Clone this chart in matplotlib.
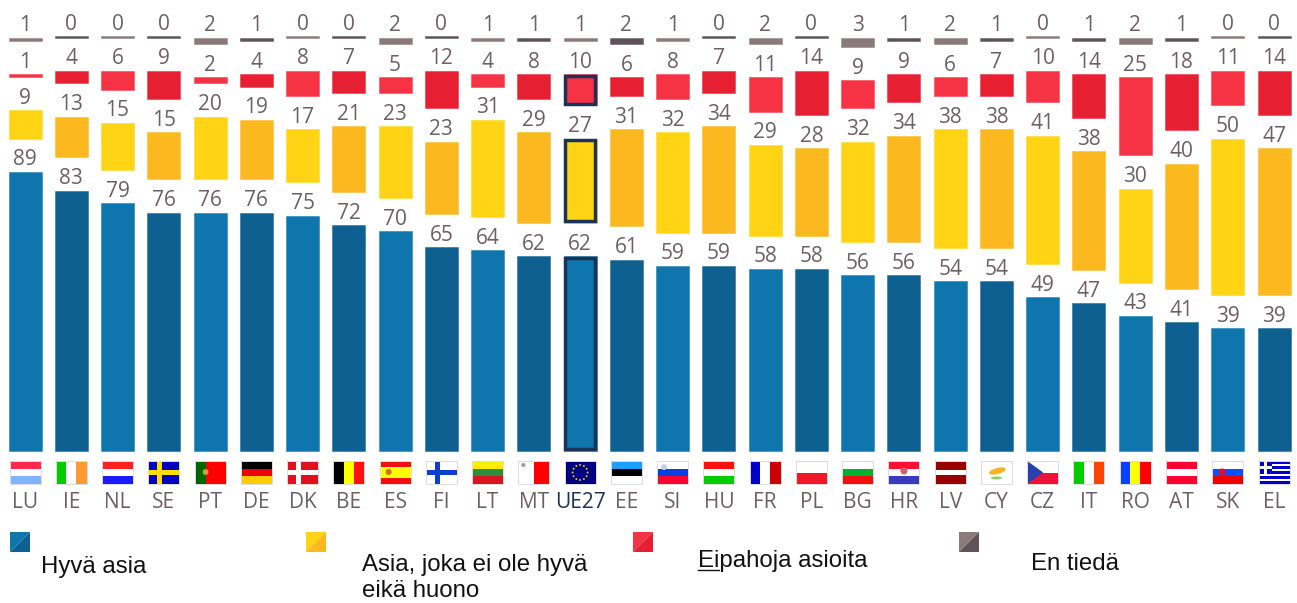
import matplotlib

matplotlib.use("Agg")
import matplotlib.pyplot as plt
import numpy as np
from matplotlib.patches import Circle, Ellipse, Polygon, Rectangle

# pixel geometry of the picture
WIDTH, HEIGHT = 1297, 603
X_FIRST = 25.0
PITCH = 46.26
BAR_PX = 33.0
BASE_Y = 450.5
PX_PER_UNIT = 3.13
GAP = 33.3 / PX_PER_UNIT  # blank space between two segments, in data units
MIN_HEIGHT = 0.4  # a 0 still shows a hairline

COUNTRIES = ["LU", "IE", "NL", "SE", "PT", "DE", "DK", "BE", "ES", "FI", "LT", "MT", "UE27", "EE",
             "SI", "HU", "FR", "PL", "BG", "HR", "LV", "CY", "CZ", "IT", "RO", "AT", "SK", "EL"]
GOOD = [89, 83, 79, 76, 76, 76, 75, 72, 70, 65, 64, 62, 62, 61,
        59, 59, 58, 58, 56, 56, 54, 54, 49, 47, 43, 41, 39, 39]
NEITHER = [9, 13, 15, 15, 20, 19, 17, 21, 23, 23, 31, 29, 27, 31,
           32, 34, 29, 28, 32, 34, 38, 38, 41, 38, 30, 40, 50, 47]
BAD = [1, 4, 6, 9, 2, 4, 8, 7, 5, 12, 4, 8, 10, 6,
       8, 7, 11, 14, 9, 9, 6, 7, 10, 14, 25, 18, 11, 14]
DONT_KNOW = [1, 0, 0, 0, 2, 1, 0, 0, 2, 0, 1, 1, 1, 2,
             1, 0, 2, 0, 3, 1, 2, 1, 0, 1, 2, 1, 0, 0]

SERIES = [GOOD, NEITHER, BAD, DONT_KNOW]
# (even column, odd column)
COLORS = [("#0f75ad", "#0e6091"), ("#ffd414", "#fbb81f"), ("#f63345", "#e62032"), ("#8a7a7c", "#5f5259")]
LEGEND_LABELS = ["Hyvä asia", "Asia, joka ei ole hyvä\neikä huono", "Eipahoja asioita", "En tiedä"]
LEGEND_BOX_X = [10, 306, 633, 959]
LEGEND_TEXT_XY = [(41, 567), (362, 578), (698, 561), (1031, 564)]

TEXT_COLOR = "#6d5f63"
UE_COLOR = "#1c3357"

FLAG_W, FLAG_H, FLAG_TOP = 31, 23, 461
# orientation, stripe colours, stripe weights
FLAG_STRIPES = {
    "LU": ("h", ["#ff2a4a", "white", "#80b3ff"], None),
    "IE": ("v", ["#00cc00", "white", "#ff9933"], None),
    "NL": ("h", ["#ff2020", "white", "#1a1aff"], None),
    "SE": ("h", ["#0000c0"], None),
    "PT": ("v", ["#006600", "#ff0000"], [0.38, 0.62]),
    "DE": ("h", ["black", "#ee0000", "#ffcc00"], None),
    "DK": ("h", ["#e01020"], None),
    "BE": ("v", ["black", "#ffff00", "#ff1010"], None),
    "ES": ("h", ["#f01010", "#ffff00", "#f01010"], [1, 2, 1]),
    "FI": ("h", ["white"], None),
    "LT": ("h", ["#ffee00", "#2e8b40", "#d8141e"], None),
    "MT": ("v", ["white", "#ff0000"], None),
    "UE27": ("h", ["#000080"], None),
    "EE": ("h", ["#1a9fff", "black", "white"], None),
    "SI": ("h", ["white", "#0a3fe0", "#ff0033"], None),
    "HU": ("h", ["#ff1010", "white", "#00cc00"], None),
    "FR": ("v", ["#0000cc", "white", "#cc0000"], None),
    "PL": ("h", ["white", "#f01828"], None),
    "BG": ("h", ["white", "#00b030", "#f01010"], None),
    "HR": ("h", ["#ff1030", "white", "#3a3ac0"], None),
    "LV": ("h", ["#990000", "white", "#990000"], [2, 1, 2]),
    "CY": ("h", ["white"], None),
    "CZ": ("h", ["white", "#f0103a"], None),
    "IT": ("v", ["#00cc00", "white", "#ff4400"], None),
    "RO": ("v", ["#0a3fff", "#ffff00", "#ff0000"], None),
    "AT": ("h", ["#ff0033", "white", "#ff0033"], None),
    "SK": ("h", ["white", "#0a50ff", "#ee0000"], None),
    "EL": ("h", ["#0000cc", "white"] * 4 + ["#0000cc"], None),
}
# bar colour of the nordic crosses
FLAG_CROSS = {"SE": "#ffdd00", "DK": "white", "FI": "#0a3fd0"}
# small emblems: colour, x offset from the flag's left edge, y offset from its top, radius
FLAG_EMBLEMS = {
    "PT": ("#c8a030", 11, 11, 3.0),
    "ES": ("#d07020", 9, 11, 3.0),
    "SI": ("#c8d0f0", 7, 6, 3.0),
    "HR": ("#d06070", 15.5, 10, 3.5),
    "SK": ("#e01020", 10, 11, 3.5),
    "MT": ("#999999", 5, 4, 2.0),
}


def draw_flag(ax, code, cx):
    left = cx - FLAG_W / 2
    orient, colors, weights = FLAG_STRIPES[code]
    weights = weights or [1] * len(colors)
    size = FLAG_H if orient == "h" else FLAG_W
    edges = np.cumsum([0] + list(weights)) / sum(weights) * size
    for start, stop, color in zip(edges[:-1], edges[1:], colors):
        if orient == "h":
            rect = Rectangle((left, FLAG_TOP + start), FLAG_W, stop - start, fc=color, lw=0)
        else:
            rect = Rectangle((left + start, FLAG_TOP), stop - start, FLAG_H, fc=color, lw=0)
        ax.add_patch(rect)

    if code in FLAG_CROSS:
        color = FLAG_CROSS[code]
        ax.add_patch(Rectangle((left + 9, FLAG_TOP), 5, FLAG_H, fc=color, lw=0))
        ax.add_patch(Rectangle((left, FLAG_TOP + 9), FLAG_W, 5, fc=color, lw=0))
    if code == "CZ":
        ax.add_patch(Polygon([(left, FLAG_TOP), (left + 16, FLAG_TOP + FLAG_H / 2), (left, FLAG_TOP + FLAG_H)],
                             fc="#2a3fb0", lw=0))
    if code == "EL":
        ax.add_patch(Rectangle((left, FLAG_TOP), 13, 13, fc="#0000cc", lw=0))
        ax.add_patch(Rectangle((left + 5, FLAG_TOP), 3, 13, fc="white", lw=0))
        ax.add_patch(Rectangle((left, FLAG_TOP + 5), 13, 3, fc="white", lw=0))
    if code == "CY":
        ax.add_patch(Ellipse((cx + 1, FLAG_TOP + 10), 17, 6, angle=-15, fc="#f5b520", lw=0))
        ax.add_patch(Ellipse((cx, FLAG_TOP + 17), 11, 3, fc="#8fd060", lw=0))
    if code == "UE27":
        for angle in np.linspace(0, 2 * np.pi, 12, endpoint=False):
            ax.add_patch(Circle((cx + 7.5 * np.cos(angle), FLAG_TOP + 11.5 + 7.5 * np.sin(angle)), 1.0,
                                fc="#d8c820", lw=0))
    if code in FLAG_EMBLEMS:
        color, dx, dy, radius = FLAG_EMBLEMS[code]
        ax.add_patch(Circle((left + dx, FLAG_TOP + dy), radius, fc=color, lw=0))
    ax.add_patch(Rectangle((left, FLAG_TOP), FLAG_W, FLAG_H, fc="none", ec="#e2dcdc", lw=0.7))


fig = plt.figure(figsize=(WIDTH / 100, HEIGHT / 100), dpi=100)
plt.rcParams["font.family"] = ["Open Sans", "DejaVu Sans"]

ax = fig.add_axes([0, 0, 1, 1])
ax.set_xlim(-X_FIRST / PITCH, (WIDTH - X_FIRST) / PITCH)
ax.set_ylim((BASE_Y - HEIGHT) / PX_PER_UNIT, BASE_Y / PX_PER_UNIT)
ax.axis("off")

x = np.arange(len(COUNTRIES))
bar_width = BAR_PX / PITCH
ue_index = COUNTRIES.index("UE27")
bottom = np.zeros(len(COUNTRIES))
for s, (values, pair) in enumerate(zip(SERIES, COLORS)):
    values = np.array(values, dtype=float)
    heights = np.maximum(values, MIN_HEIGHT)
    bar_colors = [pair[i % 2] for i in x]
    edge_colors = [matplotlib.colors.to_rgba(c, 0.55) for c in bar_colors]
    ax.bar(x, heights, width=bar_width, bottom=bottom, color=bar_colors, edgecolor=edge_colors, linewidth=0.6)

    # the EU column gets a dark frame, apart from the last segment
    if s < 3:
        inset_x = 1.7 / PITCH
        inset_y = 1.7 / PX_PER_UNIT
        ax.bar(x[ue_index], heights[ue_index] - 2 * inset_y, width=bar_width - 2 * inset_x,
               bottom=bottom[ue_index] + inset_y, fill=False, edgecolor=UE_COLOR, linewidth=2.5)

    tops = bottom + heights
    for xi, top, value in zip(x, tops, values):
        ax.annotate(f"{value:.0f}", (xi, top), xytext=(0, 14.5), textcoords="offset pixels", ha="center",
                    va="center_baseline", fontsize=15, color=TEXT_COLOR)
    bottom = tops + GAP

# overlay in plain pixels for flags, codes and the legend
px = fig.add_axes([0, 0, 1, 1])
px.set_xlim(0, WIDTH)
px.set_ylim(HEIGHT, 0)
px.axis("off")
px.patch.set_alpha(0)

for i, code in enumerate(COUNTRIES):
    cx = X_FIRST + i * PITCH
    draw_flag(px, code, cx)
    px.text(cx, 503, code, ha="center", va="center", fontsize=15,
            color=UE_COLOR if code == "UE27" else TEXT_COLOR)

for box_x, pair, label, (tx, ty) in zip(LEGEND_BOX_X, COLORS, LEGEND_LABELS, LEGEND_TEXT_XY):
    px.add_patch(Polygon([(box_x, 532), (box_x + 20, 532), (box_x, 552)], fc=pair[0], lw=0))
    px.add_patch(Polygon([(box_x + 20, 532), (box_x + 20, 552), (box_x, 552)], fc=pair[1], lw=0))
    px.text(tx, ty, label, ha="left", va="center", fontsize=17.3, family="Liberation Sans", color="#111111",
            linespacing=1.22)

# only the first two letters are underlined
px.plot([698, 719], [570, 570], color="#111111", lw=1.0)

fig.savefig("out.png", dpi=100)
